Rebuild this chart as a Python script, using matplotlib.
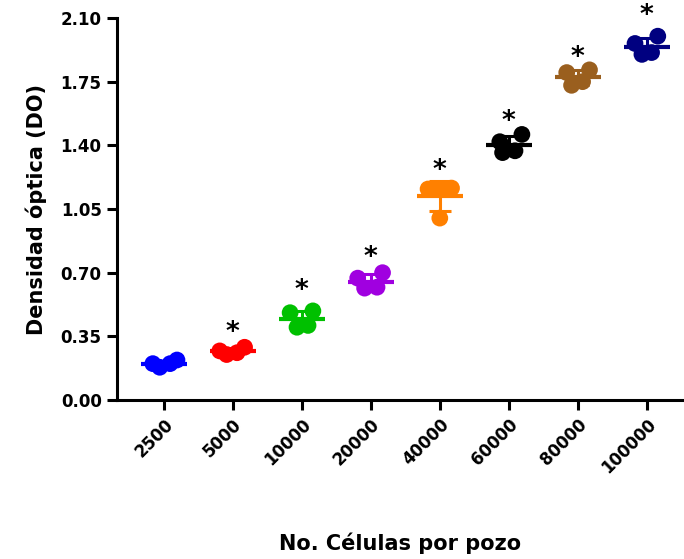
import matplotlib
matplotlib.use('Agg')
import matplotlib.pyplot as plt
import numpy as np

# cells per well and the optical density replicates
groups = ['2500', '5000', '10000', '20000', '40000', '60000', '80000', '100000']
od_values = [
    [0.20, 0.18, 0.20, 0.22],
    [0.27, 0.25, 0.26, 0.29],
    [0.48, 0.40, 0.41, 0.49],
    [0.67, 0.615, 0.62, 0.70],
    [1.16, 1.16, 1.165, 1.00],
    [1.42, 1.36, 1.37, 1.46],
    [1.80, 1.73, 1.75, 1.815],
    [1.96, 1.90, 1.91, 2.00],
]
significant = [False, True, True, True, True, True, True, True]
star_heights = [None, 0.37, 0.60, 0.78, 1.26, 1.53, 1.88, 2.11]
colors = ['#0000ff', '#ff0000', '#00c000', '#a000e0', '#ff8000', '#000000', '#9a5f1e', '#000080']
yticks = [0.00, 0.35, 0.70, 1.05, 1.40, 1.75, 2.10]

# horizontal scatter of the replicates inside each column (layout only)
spread = [
    [-0.16, -0.06, 0.09, 0.19],
    [-0.19, -0.09, 0.06, 0.17],
    [-0.17, -0.07, 0.09, 0.16],
    [-0.19, -0.09, 0.09, 0.17],
    [-0.17, 0.00, 0.17, 0.00],
    [-0.13, -0.09, 0.09, 0.19],
    [-0.16, -0.09, 0.07, 0.17],
    [-0.17, -0.07, 0.07, 0.16],
]

plt.rcParams['font.family'] = ['DejaVu Sans']
plt.rcParams['font.weight'] = 'bold'

fig = plt.figure(figsize=(6.84, 5.59), dpi=100)
ax = fig.add_axes([0.171, 0.2844, 0.829, 0.6834])

for i, (vals, col) in enumerate(zip(od_values, colors)):
    vals = np.array(vals)
    xs = i + np.array(spread[i])
    ax.scatter(xs, vals, s=145, color=col, edgecolor='none', zorder=3)
    m = vals.mean()
    sd = vals.std(ddof=1)
    ax.hlines(m, i - 0.33, i + 0.33, color=col, lw=3, zorder=4)
    ax.errorbar(i, m, yerr=sd, color=col, lw=2.2, capsize=8, capthick=2.2,
                fmt='none', zorder=4)
    if significant[i]:
        ax.text(i, star_heights[i], '*', ha='center', va='center',
                fontsize=19, fontweight='bold', color='black', clip_on=False)

ax.set_xlim(-0.68, 7.54)
ax.set_ylim(0, 2.10)
ax.set_yticks(yticks)
ax.set_yticklabels([f'{v:.2f}' for v in yticks], fontsize=12, fontweight='bold')
ax.set_xticks(range(len(groups)))
ax.set_xticklabels(groups, rotation=45, ha='right', rotation_mode='anchor',
                   fontsize=12, fontweight='bold')

for side in ['top', 'right']:
    ax.spines[side].set_visible(False)
for side in ['left', 'bottom']:
    ax.spines[side].set_linewidth(2.2)
ax.tick_params(axis='both', width=2.2, length=7, direction='out', pad=4)

ax.set_ylabel('Densidad óptica (DO)', fontsize=15, fontweight='bold', labelpad=10)
ax.set_xlabel('No. Células por pozo', fontsize=15, fontweight='bold', labelpad=40)

plt.savefig('out.png', dpi=100)
